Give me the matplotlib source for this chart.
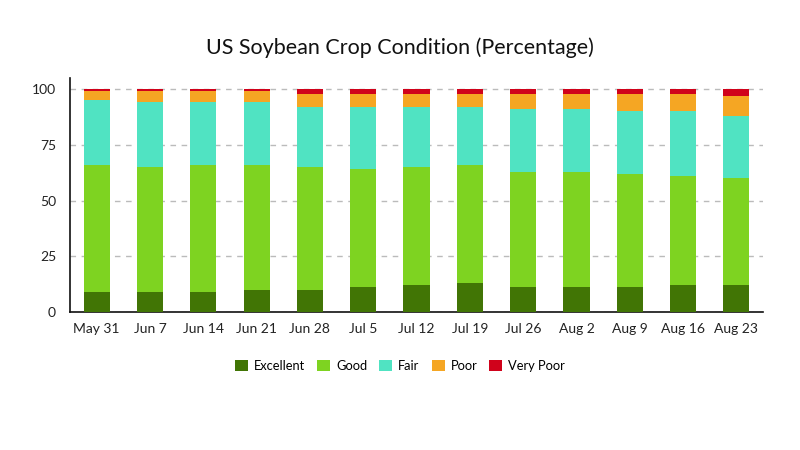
import matplotlib
matplotlib.use("Agg")
import matplotlib.pyplot as plt
import numpy as np

plt.rcParams['font.family'] = ['Lato', 'DejaVu Sans']

weeks = ["May 31", "Jun 7", "Jun 14", "Jun 21", "Jun 28", "Jul 5", "Jul 12",
         "Jul 19", "Jul 26", "Aug 2", "Aug 9", "Aug 16", "Aug 23"]
excellent = [9, 9, 9, 10, 10, 11, 12, 13, 11, 11, 11, 12, 12]
good      = [57, 56, 57, 56, 55, 53, 53, 53, 52, 52, 51, 49, 48]
fair      = [29, 29, 28, 28, 27, 28, 27, 26, 28, 28, 28, 29, 28]
poor      = [4, 5, 5, 5, 6, 6, 6, 6, 7, 7, 8, 8, 9]
very_poor = [1, 1, 1, 1, 2, 2, 2, 2, 2, 2, 2, 2, 3]

series_names = ["Excellent", "Good", "Fair", "Poor", "Very Poor"]
colors = ["#417505", "#7ed321", "#50e3c2", "#f5a623", "#d0021b"]

fig = plt.figure(figsize=(8, 4.5), dpi=100)
ax = fig.add_axes([0.0875, 0.3067, 0.8663, 0.52])

x = np.arange(len(weeks))
bottom = np.zeros(len(weeks))
for name, vals, c in zip(series_names, [excellent, good, fair, poor, very_poor], colors):
    ax.bar(x, vals, width=0.49, bottom=bottom, color=c, label=name, zorder=3)
    bottom += np.array(vals)

ax.set_xlim(-0.5, len(weeks) - 0.5)
ax.set_ylim(0, 105)
ax.set_yticks([0, 25, 50, 75, 100])
ax.set_xticks(x)
ax.set_xticklabels(weeks)
ax.tick_params(axis='both', labelsize=10, colors='#222222', length=0, pad=8)
ax.tick_params(axis='y', pad=10)
ax.yaxis.grid(True, linestyle=(0, (4, 4)), color='#bbbbbb', linewidth=1, zorder=0)
for s in ['top', 'right']:
    ax.spines[s].set_visible(False)
for s in ['left', 'bottom']:
    ax.spines[s].set_color('#111111')
    ax.spines[s].set_linewidth(1.2)

fig.text(0.5, 0.895, "US Soybean Crop Condition (Percentage)", ha='center', va='center',
         fontsize=15.5, color='#111111')

fig.legend(loc='center', bbox_to_anchor=(0.5, 0.187), ncol=5, frameon=False,
           fontsize=9.3, handlelength=1.0, handleheight=1.0, handletextpad=0.45,
           columnspacing=0.95)

fig.savefig("out.png", dpi=100)
